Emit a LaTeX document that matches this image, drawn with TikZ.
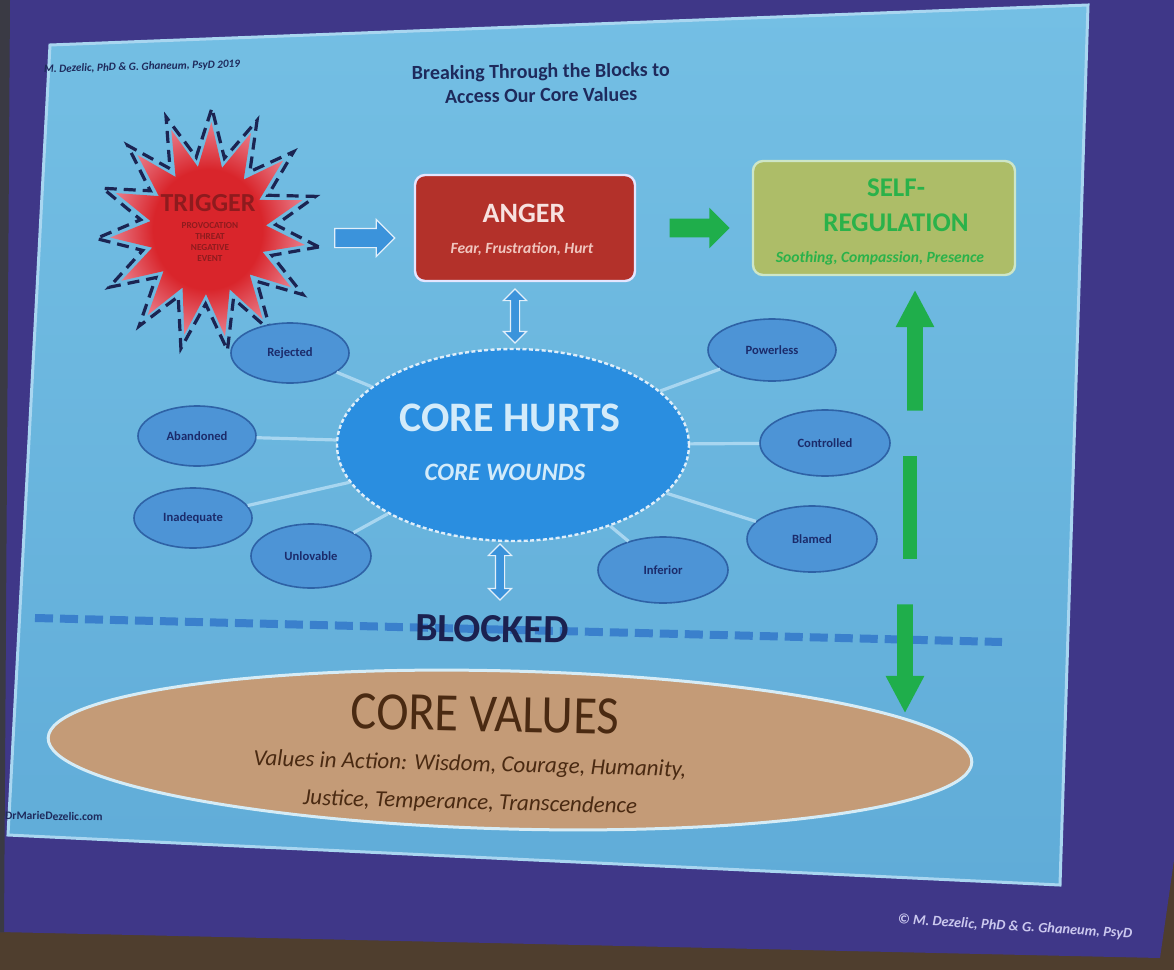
\documentclass[tikz,border=0pt]{standalone}
\usepackage{fontspec}
\setmainfont{Carlito}
\usetikzlibrary{shapes.geometric,shapes.arrows,calc}
\definecolor{purplebg}{HTML}{3F3788}
\definecolor{brownbg}{HTML}{4F3E2E}
\definecolor{greyedge}{HTML}{3A3A44}
\definecolor{slidetop}{HTML}{74BFE4}
\definecolor{slidebot}{HTML}{60ACD8}
\definecolor{slideedge}{HTML}{A9D6F0}
\definecolor{navytxt}{HTML}{1E2A5C}
\definecolor{starred}{HTML}{D9252B}
\definecolor{starpink}{HTML}{EFA3B4}
\definecolor{starline}{HTML}{1B2452}
\definecolor{trigtxt}{HTML}{8E1B1E}
\definecolor{arrowblue}{HTML}{3B93DB}
\definecolor{angerred}{HTML}{B3312A}
\definecolor{angertxt}{HTML}{F7E2E0}
\definecolor{angersub}{HTML}{F0C6BF}
\definecolor{selffill}{HTML}{ADBD68}
\definecolor{selfedge}{HTML}{CDE6C8}
\definecolor{greentxt}{HTML}{2AB24A}
\definecolor{greenarr}{HTML}{1FAE4B}
\definecolor{hurtblue}{HTML}{2A8EE0}
\definecolor{hurttxt}{HTML}{D3EBFA}
\definecolor{smallfill}{HTML}{4D94D6}
\definecolor{smalledge}{HTML}{2E62A6}
\definecolor{labelnavy}{HTML}{1B2B6B}
\definecolor{connblue}{HTML}{A8D6F0}
\definecolor{dashblue}{HTML}{3A80CC}
\definecolor{blocktxt}{HTML}{1B2150}
\definecolor{cvtan}{HTML}{C49B77}
\definecolor{cvedge}{HTML}{D6ECF6}
\definecolor{cvtxt}{HTML}{4A2A12}
\definecolor{copytxt}{HTML}{CBC8EE}
\pgfdeclareradialshading{starshade}{\pgfpoint{0bp}{0bp}}{color(0bp)=(starred); color(14bp)=(starred); color(30bp)=(starpink); color(42bp)=(starpink!35!white); color(50bp)=(white)}
\begin{document}
\begin{tikzpicture}[x=0.5pt,y=-0.5pt,
  hurtell/.style={ellipse, fill=smallfill, draw=smalledge, line width=0.8pt,
    minimum width=61pt, minimum height=31pt, inner sep=0pt,
    font=\bfseries\fontsize{6.3}{7}\selectfont, text=labelnavy},
  conn/.style={draw=connblue, line width=1.6pt},
  blockarrow/.style={single arrow, minimum width=0pt, line width=0.6pt, draw=white!85!arrowblue},
  dblarrow/.style={double arrow, minimum width=0pt, line width=0.6pt, draw=white!85!arrowblue, fill=arrowblue},
  greenblock/.style={single arrow, minimum width=0pt, fill=greenarr, draw=none},
]
\useasboundingbox (0,0) rectangle (1174,970);
% screen and surroundings
\fill[brownbg] (0,0) rectangle (1174,970);
\fill[purplebg] (0,0) -- (1174,0) -- (1174,860) -- (1160,958) -- (0,932) -- cycle;
\fill[greyedge] (0,0) -- (10,0) -- (4,932) -- (0,932) -- cycle;
% slide
\shade[top color=slidetop, bottom color=slidebot] (50,45) -- (1088,5) -- (1060,885) -- (8,835) -- cycle;
\draw[slideedge, line width=1.5pt] (50,45) -- (1088,5) -- (1060,885) -- (8,835) -- cycle;

% texts of the frame
\node[font=\bfseries\fontsize{10}{12}\selectfont, text=navytxt, align=center, rotate=0.8] (title) at (541,83) {Breaking Through the Blocks to\\Access Our Core Values};
\node[font=\bfseries\itshape\fontsize{5.6}{6}\selectfont, text=navytxt, rotate=1.5] (credit) at (142,67) {M. Dezelic, PhD \& G. Ghaneum, PsyD 2019};
\node[font=\bfseries\fontsize{5.8}{6}\selectfont, text=navytxt, rotate=-1] (url) at (54,816) {DrMarieDezelic.com};
\node[font=\bfseries\itshape\fontsize{7.2}{8}\selectfont, text=copytxt, rotate=-3.5] (copy) at (1015,927) {\textcopyright\ M. Dezelic, PhD \& G. Ghaneum, PsyD};

% trigger starburst
\coordinate (trigger) at (208,230);
\shade[shading=starshade] plot[samples at={0,12,...,348}, variable=\a]
  ({208+(mod(int(round(\a/12)),2)==0 ? 98 : 58)*cos(\a+8)},
   {230+(mod(int(round(\a/12)),2)==0 ? 108 : 64)*sin(\a+8)}) -- cycle;
\draw[starline, line width=1.6pt, dash pattern=on 6pt off 3.5pt] plot[samples at={0,12,...,348}, variable=\a]
  ({208+(mod(int(round(\a/12)),2)==0 ? 112 : 68)*cos(\a+8)},
   {230+(mod(int(round(\a/12)),2)==0 ? 122 : 74)*sin(\a+8)}) -- cycle;
\node[font=\bfseries\fontsize{13}{14}\selectfont, text=trigtxt] (trigtitle) at (208,203) {TRIGGER};
\node[font=\bfseries\fontsize{4.6}{5.5}\selectfont, text=trigtxt, align=center] (trigsub) at (210,242) {PROVOCATION\\THREAT\\NEGATIVE\\EVENT};

% anger
\node[rectangle, rounded corners=5pt, fill=angerred, draw=white!90!blue, line width=1.2pt, minimum width=110pt, minimum height=53pt] (anger) at (525,228) {};
\node[font=\bfseries\fontsize{14}{15}\selectfont, text=angertxt] (angert) at (524,213) {ANGER};
\node[font=\bfseries\itshape\fontsize{7.8}{9}\selectfont, text=angersub] (angers) at (522,249) {Fear, Frustration, Hurt};

% self-regulation
\node[rectangle, rounded corners=5pt, fill=selffill, draw=selfedge, line width=1.2pt, minimum width=131pt, minimum height=57pt] (selfreg) at (884,218) {};
\node[font=\bfseries\fontsize{13.5}{17.5}\selectfont, text=greentxt, align=center] (selft) at (896,205) {SELF-\\REGULATION};
\node[font=\bfseries\itshape\fontsize{7.8}{9}\selectfont, text=greentxt] (selfs) at (880,258) {Soothing, Compassion, Presence};

% horizontal arrows
\node[blockarrow, fill=arrowblue, inner sep=4.5pt, single arrow head extend=4.5pt, minimum height=30pt] (a1) at (360,238) {};
\node[greenblock, inner sep=4.5pt, single arrow head extend=5.5pt, minimum height=30pt] (a2) at (695,228) {};

% core hurts
\node[ellipse, fill=hurtblue, draw=white!85!hurtblue, line width=1.2pt, dash pattern=on 2pt off 1.2pt, minimum width=176pt, minimum height=96pt] (hurts) at (513,445) {};
\node[font=\bfseries\fontsize{21}{22}\selectfont, text=hurttxt] (hurtst) at (510,418) {CORE HURTS};
\node[font=\bfseries\itshape\fontsize{12.5}{14}\selectfont, text=hurttxt] (hurtss) at (505,472) {CORE WOUNDS};

% small hurts
\node[hurtell, minimum width=59pt, minimum height=30pt] (rej) at (290,353) {Rejected};
\node[hurtell, minimum width=59pt, minimum height=30pt] (aba) at (197,436) {Abandoned};
\node[hurtell, minimum width=59pt, minimum height=30pt] (ina) at (193,518) {Inadequate};
\node[hurtell, minimum width=60pt, minimum height=32pt] (unl) at (311,556) {Unlovable};
\node[hurtell, minimum width=64pt, minimum height=31pt] (pow) at (772,350) {Powerless};
\node[hurtell, minimum width=65pt, minimum height=33pt] (con) at (825,443) {Controlled};
\node[hurtell, minimum width=65pt, minimum height=33pt] (bla) at (812,539) {Blamed};
\node[hurtell, minimum width=65pt, minimum height=33pt] (inf) at (663,570) {Inferior};
\foreach \n in {rej,aba,ina,unl,pow,con,bla,inf} \draw[conn] (hurts) -- (\n);

% vertical blue double arrows
\node[dblarrow, shape border rotate=90, inner sep=2pt, double arrow head extend=3.5pt, minimum height=27pt] (d1) at (515,316) {};
\node[dblarrow, shape border rotate=90, inner sep=2pt, double arrow head extend=3.5pt, minimum height=28pt] (d2) at (500,572) {};

% blocked line
\coordinate (dl1) at (35,618);
\coordinate (dl2) at (1002,642);
\draw[dashblue, line width=4pt, dash pattern=on 9pt off 3.5pt] (dl1) -- (dl2);
\node[font=\bfseries\fontsize{20}{22}\selectfont, text=blocktxt, rotate=-1] (blocked) at (492,629) {BLOCKED};

% core values
\node[ellipse, fill=cvtan, draw=cvedge, line width=1.5pt, minimum width=462pt, minimum height=79pt, rotate=-1.5] (values) at (510,750) {};
\node[font=\fontsize{27}{28}\selectfont, text=cvtxt, rotate=-1.2, xscale=0.9] (valuest) at (485,714) {CORE VALUES};
\node[font=\itshape\fontsize{11.5}{13}\selectfont, text=cvtxt, rotate=-1.5, inner sep=0pt] (valuesa) at (470,765) {Values in Action: Wisdom, Courage, Humanity,};
\node[font=\itshape\fontsize{11.5}{13}\selectfont, text=cvtxt, rotate=-1.5, inner sep=0pt] (valuesb) at (470,803) {Justice, Temperance, Transcendence};

% green vertical arrows
\node[greenblock, single arrow tip angle=56, shape border rotate=90, inner sep=3.75pt, single arrow head extend=5.75pt, minimum height=60pt] (gup) at (915,358) {};
\node[rectangle, fill=greenarr, minimum width=7pt, minimum height=51.5pt, inner sep=0pt] (gmid) at (910,507) {};
\node[greenblock, single arrow tip angle=56, shape border rotate=270, inner sep=3.75pt, single arrow head extend=5.75pt, minimum height=54pt] (gdown) at (905,651) {};
\end{tikzpicture}
\end{document}
